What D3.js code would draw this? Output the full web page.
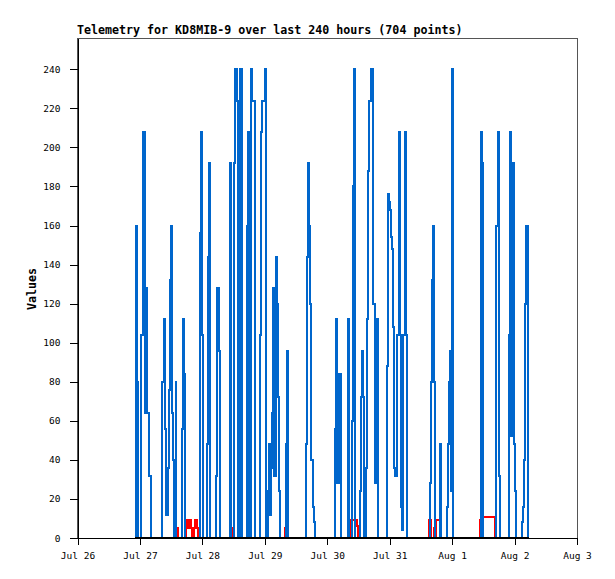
<!DOCTYPE html>
<html>
<head>
<meta charset="utf-8">
<script src="https://cdn.jsdelivr.net/npm/d3@7"></script>
<style>
  body { margin: 0; background: #fff; }
  svg { display: block; }
</style>
</head>
<body>
<div id="chart"></div>
<script>
// chart text
const title = "Telemetry for KD8MIB-9 over last 240 hours (704 points)";
const yLabel = "Values";
const yTicks = [0, 20, 40, 60, 80, 100, 120, 140, 160, 180, 200, 220, 240];

// time is hours after Jul 26 00:00
const startDay = new Date(2024, 6, 26);
const endDay = new Date(2024, 7, 3);

// blue series: [hour, value]
const blueSeries = [
  [22.3,0],[22.5,160],[22.9,80],[23.2,0],
  [24.4,0],[24.6,104],[25.2,208],[25.8,64],[26.3,128],[26.9,64],[27.5,32],[28.1,16],[28.4,0],
  [32.1,0],[32.3,80],[33.1,112],[33.6,56],[34.0,12],[34.6,36],[35.0,76],[35.4,132],[35.8,160],[36.2,80],[36.5,64],[36.9,40],[37.2,0],
  [37.5,0],[37.7,80],[38.0,0],
  [39.8,0],[40.0,56],[40.4,112],[40.8,84],[41.2,28],[41.4,0],
  [46.7,0],[46.9,52],[47.2,156],[47.6,208],[48.0,104],[48.3,0],
  [49.4,0],[49.6,48],[50.0,144],[50.4,192],[50.8,96],[51.0,0],
  [52.9,0],[53.1,32],[53.5,96],[53.8,128],[54.2,96],[54.6,32],[54.9,0],
  [58.5,0],[58.7,192],[59.0,0],
  [60.0,0],[60.2,192],[60.6,240],[61.3,224],[61.7,0],
  [62.3,0],[62.5,240],[63.1,208],[63.4,0],
  [65.0,0],[65.2,160],[65.6,208],[66.0,0],
  [66.5,0],[66.6,240],[67.2,224],[67.9,224],[68.3,0],
  [70.0,0],[70.2,104],[70.6,208],[71.0,224],[71.5,224],[71.9,240],[72.3,0],
  [73.15,0],[73.3,24],[73.7,48],[74.0,12],[74.4,36],[74.8,64],[75.0,128],[75.6,32],[76.35,144],[76.7,120],[77.1,72],[77.4,24],[77.7,24],[78.0,0],
  [80.0,0],[80.2,48],[80.6,96],[81.0,0],
  [87.7,0],[87.9,48],[88.3,144],[88.65,192],[89.15,160],[89.5,120],[89.9,40],[90.5,16],[91.0,8],[91.2,0],
  [98.9,0],[99.0,56],[99.4,112],[99.8,28],[100.5,84],[101.1,56],[101.4,0],
  [103.85,0],[104.0,112],[104.4,0],
  [105.3,0],[105.5,60],[105.85,180],[106.2,240],[106.6,0],
  [108.55,0],[108.65,24],[109.0,72],[109.4,96],[109.8,72],[110.1,24],[110.3,0],
  [110.85,0],[110.96,36],[111.35,112],[111.7,188],[112.1,224],[112.9,240],[113.3,240],[113.65,120],[114.4,28],[114.8,84],[115.3,112],[115.6,0],
  [118.9,0],[119.0,88],[119.4,176],[119.8,172],[120.2,168],[120.6,154],[121.0,148],[121.35,108],[121.7,36],[122.1,32],[122.5,32],[122.9,104],[123.4,208],[124.0,104],[124.5,16],[124.9,4],[125.3,104],[125.85,208],[126.35,104],[126.6,0],
  [135.45,0],[135.6,28],[136.0,80],[136.35,132],[136.7,160],[137.1,80],[137.4,0],
  [139.1,0],[139.25,48],[139.6,0],
  [142.0,0],[142.1,16],[142.5,48],[142.9,80],[143.3,96],[143.65,24],[144.0,240],[144.4,0],
  [155.1,0],[155.2,208],[155.6,192],[156.0,0],
  [160.4,0],[160.8,160],[161.5,208],[162.0,32],[162.3,0],
  [165.85,0],[165.96,104],[166.35,208],[166.6,52],[166.85,156],[167.25,192],[167.6,144],[167.9,48],[168.25,24],[168.5,0],
  [170.85,0],[170.96,8],[171.35,16],[171.7,40],[172.1,120],[172.5,160],[173.0,80],[173.3,0]
];

// red series: [hour, value]
const redSeries = [
  [38.1,0],[38.3,5],[38.5,0],
  [41.5,0],[41.7,9],[42.1,5],[42.5,9],[42.9,5],[43.3,9],[43.65,5],[43.9,0],
  [44.8,0],[44.9,5],[45.2,9],[45.6,9],[45.95,5],[46.15,0],
  [59.2,0],[59.4,5],[59.6,0],
  [79.6,0],[79.8,5],[80.0,0],
  [104.5,0],[104.7,9],[107.1,9],[107.4,6],[107.8,2],[108.0,0],
  [135.1,0],[135.3,9],[135.7,0],
  [136.7,0],[136.85,5],[137.1,0],
  [137.6,0],[137.7,9],[139.2,9],[139.4,0],
  [154.7,0],[154.8,9],[156.0,11],[160.4,11],[160.5,0]
];

// black series sits on zero for the whole span
const zeroSeries = [[22.1,0],[173.5,0]];

const width = 615, height = 579;
const plotLeft = 77.5, plotRight = 577, plotTop = 38, plotBottom = 538;

const svg = d3.select("#chart").append("svg")
    .attr("width", width)
    .attr("height", height);

const x = d3.scaleTime().domain([startDay, endDay]).range([plotLeft, plotRight]);
const y = d3.scaleLinear().domain([0, 256]).range([plotBottom, plotTop]);

const toDate = h => new Date(startDay.getTime() + h * 3600e3);

// values hold until the next reading, so draw as steps
const line = d3.line()
    .curve(d3.curveStepAfter)
    .x(d => x(toDate(d[0])))
    .y(d => y(d[1]));

// frame
svg.append("rect")
    .attr("x", plotLeft).attr("y", plotTop + 0.5)
    .attr("width", plotRight - plotLeft).attr("height", plotBottom - plotTop)
    .attr("fill", "none")
    .attr("stroke", "#555")
    .attr("shape-rendering", "crispEdges");

// series: red under blue, black zero line on top
svg.append("path")
    .datum(redSeries)
    .attr("d", line)
    .attr("fill", "none")
    .attr("stroke", "#ff0000")
    .attr("stroke-width", 2)
    .attr("shape-rendering", "crispEdges");

svg.append("path")
    .datum(blueSeries)
    .attr("d", line)
    .attr("fill", "none")
    .attr("stroke", "#0066cc")
    .attr("stroke-width", 2)
    .attr("shape-rendering", "crispEdges");

svg.append("path")
    .datum(zeroSeries)
    .attr("d", line)
    .attr("fill", "none")
    .attr("stroke", "#000")
    .attr("stroke-width", 2.5)
    .attr("shape-rendering", "crispEdges");

// axes
const yAxis = svg.append("g")
    .attr("transform", `translate(${plotLeft},0)`)
    .call(d3.axisLeft(y).tickValues(yTicks).tickSize(8).tickSizeOuter(0).tickPadding(9));

const xAxis = svg.append("g")
    .attr("transform", `translate(0,${plotBottom})`)
    .call(d3.axisBottom(x).ticks(d3.timeDay.every(1)).tickFormat(d3.timeFormat("%b %-d"))
        .tickSize(7).tickSizeOuter(0).tickPadding(7));

[yAxis, xAxis].forEach(a => {
    a.select(".domain").attr("stroke", "#000").attr("shape-rendering", "crispEdges");
    a.selectAll(".tick line").attr("stroke", "#000").attr("shape-rendering", "crispEdges");
    a.selectAll("text")
        .attr("fill", "#000")
        .style("font-family", "'DejaVu Sans Mono', monospace")
        .style("font-size", "9.5px");
});

// title and y label
svg.append("text")
    .attr("x", 77)
    .attr("y", 34)
    .text(title)
    .style("font-family", "'DejaVu Sans Mono', monospace")
    .style("font-size", "11.65px")
    .style("font-weight", "bold");

svg.append("text")
    .attr("transform", "translate(36,289) rotate(-90)")
    .attr("text-anchor", "middle")
    .text(yLabel)
    .style("font-family", "'DejaVu Sans Mono', monospace")
    .style("font-size", "11.65px")
    .style("font-weight", "bold");
</script>
</body>
</html>
